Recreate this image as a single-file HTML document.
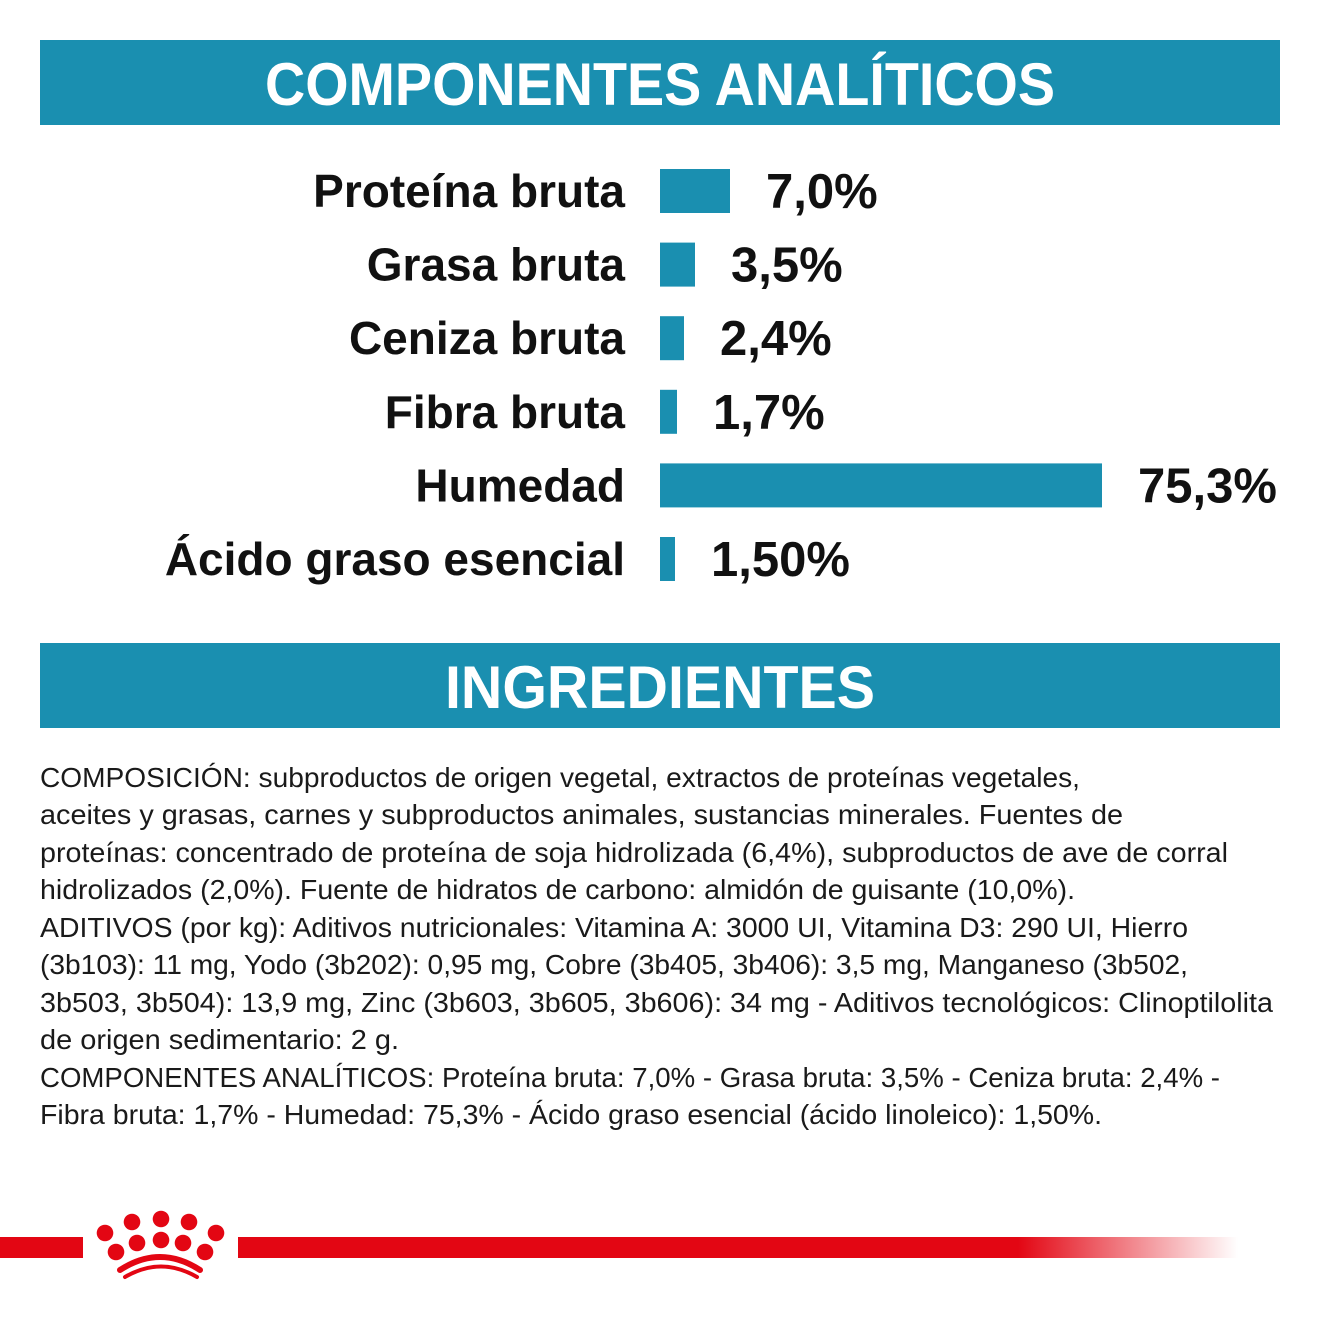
<!DOCTYPE html>
<html><head><meta charset="utf-8"><style>
html,body{margin:0;padding:0;background:#fff;}
svg{display:block;}
</style></head><body>
<svg width="1320" height="1320" viewBox="0 0 1320 1320" xmlns="http://www.w3.org/2000/svg">
<defs>
<linearGradient id="fade" x1="0" x2="1" y1="0" y2="0">
<stop offset="0" stop-color="#e30613"/><stop offset="0.78" stop-color="#e30613"/><stop offset="1" stop-color="#e30613" stop-opacity="0"/>
</linearGradient>
</defs>
<rect x="40" y="40" width="1240" height="85" fill="#1a8fb0"/>
<text x="660" y="105" text-anchor="middle" fill="#fff" font-family="Liberation Sans, sans-serif" font-weight="bold" font-size="60" textLength="790" lengthAdjust="spacingAndGlyphs">COMPONENTES ANALÍTICOS</text>
<g id="chart"></g>
<rect x="40" y="643" width="1240" height="85" fill="#1a8fb0"/>
<text x="660" y="708" text-anchor="middle" fill="#fff" font-family="Liberation Sans, sans-serif" font-weight="bold" font-size="60" textLength="430" lengthAdjust="spacingAndGlyphs">INGREDIENTES</text>
<g font-family="Liberation Sans Narrow, Liberation Sans, sans-serif" font-size="28" fill="#1a1a1a">
<text x="40" y="787" textLength="1040" lengthAdjust="spacingAndGlyphs">COMPOSICIÓN: subproductos de origen vegetal, extractos de proteínas vegetales,</text>
<text x="40" y="824" textLength="1083" lengthAdjust="spacingAndGlyphs">aceites y grasas, carnes y subproductos animales, sustancias minerales. Fuentes de</text>
<text x="40" y="862" textLength="1188" lengthAdjust="spacingAndGlyphs">proteínas: concentrado de proteína de soja hidrolizada (6,4%), subproductos de ave de corral</text>
<text x="40" y="899" textLength="1035" lengthAdjust="spacingAndGlyphs">hidrolizados (2,0%). Fuente de hidratos de carbono: almidón de guisante (10,0%).</text>
<text x="40" y="937" textLength="1148" lengthAdjust="spacingAndGlyphs">ADITIVOS (por kg): Aditivos nutricionales: Vitamina A: 3000 UI, Vitamina D3: 290 UI, Hierro</text>
<text x="40" y="974" textLength="1148" lengthAdjust="spacingAndGlyphs">(3b103): 11 mg, Yodo (3b202): 0,95 mg, Cobre (3b405, 3b406): 3,5 mg, Manganeso (3b502,</text>
<text x="40" y="1012" textLength="1233" lengthAdjust="spacingAndGlyphs">3b503, 3b504): 13,9 mg, Zinc (3b603, 3b605, 3b606): 34 mg - Aditivos tecnológicos: Clinoptilolita</text>
<text x="40" y="1049" textLength="359" lengthAdjust="spacingAndGlyphs">de origen sedimentario: 2 g.</text>
<text x="40" y="1087" textLength="1180" lengthAdjust="spacingAndGlyphs">COMPONENTES ANALÍTICOS: Proteína bruta: 7,0% - Grasa bruta: 3,5% - Ceniza bruta: 2,4% -</text>
<text x="40" y="1124" textLength="1062" lengthAdjust="spacingAndGlyphs">Fibra bruta: 1,7% - Humedad: 75,3% - Ácido graso esencial (ácido linoleico): 1,50%.</text>
</g>
<g>
<rect x="0" y="1237" width="83" height="21" fill="#e30613"/>
<rect x="238" y="1237" width="1000" height="21" fill="url(#fade)"/>
<g fill="#e30613">
<circle cx="132" cy="1222" r="8.3"/><circle cx="161" cy="1219" r="8.3"/><circle cx="189" cy="1222" r="8.3"/>
<circle cx="105" cy="1233" r="8.3"/><circle cx="216" cy="1233" r="8.3"/>
<circle cx="137" cy="1243" r="8.3"/><circle cx="161" cy="1240" r="8.3"/><circle cx="183" cy="1243" r="8.3"/>
<circle cx="116" cy="1252" r="8.3"/><circle cx="205" cy="1252" r="8.3"/>
<path d="M120 1270 Q160 1244 200 1270" stroke="#e30613" stroke-width="6" fill="none" stroke-linecap="round"/>
<path d="M125 1277 Q161 1256 197 1277" stroke="#e30613" stroke-width="4" fill="none" stroke-linecap="round"/>
</g>
</g>
</svg>
<script>
const categories = ["Proteína bruta","Grasa bruta","Ceniza bruta","Fibra bruta","Humedad","Ácido graso esencial"];
const values = [7.0, 3.5, 2.4, 1.7, 75.3, 1.5];
const valueLabels = ["7,0%","3,5%","2,4%","1,7%","75,3%","1,50%"];
(function(){
  const NS="http://www.w3.org/2000/svg";
  const g=document.getElementById('chart');
  const x0=660, maxW=442;
  const xScale=v=>Math.min(v*10, maxW);
  const yScale=i=>191+i*73.6;
  categories.forEach((c,i)=>{
    const cy=yScale(i), w=xScale(values[i]);
    const lab=document.createElementNS(NS,'text');
    
    
    lab.setAttribute('x',625);lab.setAttribute('y',cy+16);
    lab.setAttribute('text-anchor','end');
    lab.setAttribute('font-family','Liberation Sans, sans-serif');
    lab.setAttribute('font-weight','bold');lab.setAttribute('font-size','46');
    lab.setAttribute('fill','#111');
    lab.textContent=c;g.appendChild(lab);
    const r=document.createElementNS(NS,'rect');
    
    
    r.setAttribute('x',x0);r.setAttribute('y',cy-22);
    r.setAttribute('width',w);r.setAttribute('height',44);
    r.setAttribute('fill','#1a8fb0');g.appendChild(r);
    const v=document.createElementNS(NS,'text');
    
    
    v.setAttribute('x',x0+w+36);v.setAttribute('y',cy+17);
    v.setAttribute('font-family','Liberation Sans, sans-serif');
    v.setAttribute('font-weight','bold');v.setAttribute('font-size','49');
    v.setAttribute('fill','#111');
    v.textContent=valueLabels[i];g.appendChild(v);
  });
})();
</script>
</body></html>
